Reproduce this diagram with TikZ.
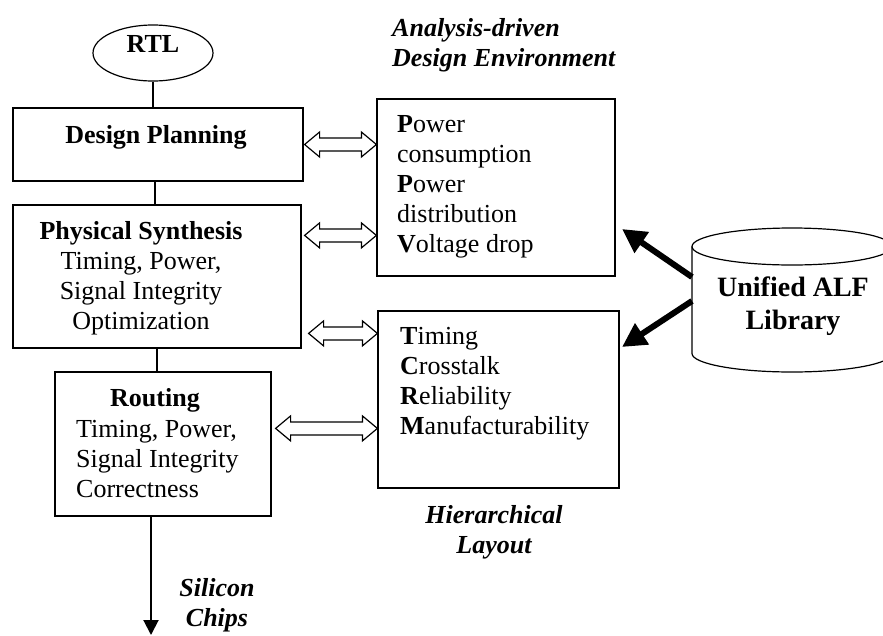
\documentclass[tikz,border=0pt]{standalone}
\usepackage{fontspec}
\setmainfont{Liberation Serif}
\usetikzlibrary{shapes.geometric}
\usetikzlibrary{calc}
\usetikzlibrary{arrows.meta}

\newcommand{\flowsize}{\fontsize{26}{30}\selectfont}

\tikzset{
  blk/.style={draw, line width=1.2pt, inner sep=0pt},
  txt/.style={inner sep=0pt, align=left, anchor=west},
  hd/.style={inner sep=0pt, font=\flowsize\bfseries},
  tag/.style={inner sep=0pt, align=center, font=\flowsize\bfseries\itshape},
  dblarr/.style={line width=1.2pt, to path={let \p1=(\tikztostart), \p2=(\tikztotarget) in
    (\x1,\y1) -- (\x1+15pt,\y1+12.5pt) -- (\x1+15pt,\y1+6.5pt) -- (\x2-15pt,\y1+6.5pt)
    -- (\x2-15pt,\y1+12.5pt) -- (\x2,\y1) -- (\x2-15pt,\y1-12.5pt) -- (\x2-15pt,\y1-6.5pt)
    -- (\x1+15pt,\y1-6.5pt) -- (\x1+15pt,\y1-12.5pt) -- cycle}},
  fat/.style={line width=6pt, -{Triangle[length=24pt,width=24pt]}}
}

\begin{document}
\begin{tikzpicture}[x=1pt, y=-1pt, font=\flowsize]
  \useasboundingbox (0,0) rectangle (883,635);

  % design flow on the left
  \node[blk, ellipse, minimum width=120, minimum height=56] (rtl) at (153,53) {};
  \node[hd] (rtltxt) at (153,44) {RTL};
  \node[blk, minimum width=290, minimum height=73] (dp) at (158,144.5) {};
  \node[hd] (dptxt) at (156,137) {Design Planning};
  \node[blk, minimum width=288, minimum height=143] (ps) at (157,276.5) {};
  \node[inner sep=0pt, align=center] (pstxt) at (141,278)
    {\textbf{Physical Synthesis}\\Timing, Power,\\Signal Integrity\\Optimization};
  \node[blk, minimum width=216, minimum height=144] (rt) at (163,444) {};
  \node[hd] (rthead) at (155,400) {Routing};
  \node[txt] (rttxt) at (76,459.5) {Timing, Power,\\Signal Integrity\\Correctness};

  \draw[line width=1.3pt] (rtl.south) -- (rtl.south |- dp.north);
  \draw[line width=1.3pt] ([xshift=-3pt]dp.south) -- ([xshift=-3pt]dp.south |- ps.north);
  \draw[line width=1.3pt] (ps.south) -- (ps.south |- rt.north);
  \coordinate (chips) at (151,635);
  \draw[line width=2pt, -{Triangle[length=15pt,width=15pt]}] (rt.south -| chips) -- (chips);

  % analysis boxes
  \node[blk, minimum width=238, minimum height=177] (pw) at (496,187.5) {};
  \node[txt] (pwtxt) at (397,186.5)
    {\textbf{P}ower\\consumption\\\textbf{P}ower\\distribution\\\textbf{V}oltage drop};
  \node[blk, minimum width=241, minimum height=177] (tm) at (498.5,399.5) {};
  \node[txt] (tmtxt) at (400,383.5)
    {\textbf{T}iming\\\textbf{C}rosstalk\\\textbf{R}eliability\\\textbf{M}anufacturability};

  % double arrows
  \coordinate (a1) at ($(dp.east)+(1,0)$);
  \coordinate (a2) at ($(ps.north east)+(3,31)$);
  \coordinate (a3) at ($(ps.north east)+(7,129)$);
  \coordinate (a4) at ($(rt.north east)+(4,57)$);
  \draw[dblarr] (a1) to (a1 -| pw.west);
  \draw[dblarr] (a2) to (a2 -| pw.west);
  \draw[dblarr] (a3) to (a3 -| tm.west);
  \draw[dblarr] (a4) to (a4 -| tm.west);

  % library cylinder
  \draw[line width=1.2pt] (692,246.5) -- (692,353.5)
    arc[start angle=180, end angle=0, x radius=100, y radius=18.5] -- (892,246.5);
  \draw[line width=1.2pt] (792,246.5) ellipse[x radius=100, y radius=18.5];
  \node[inner sep=0pt, align=center, font=\fontsize{28}{33}\selectfont\bfseries] (lib)
    at (793,306.5) {Unified ALF\\Library};
  \coordinate (libw) at (692,289);
  \coordinate (tipa) at (622,229);
  \coordinate (tipb) at (622,347);
  \draw[fat] ([yshift=12pt]libw) -- (tipa);
  \draw[fat] ([yshift=-12pt]libw) -- (tipb);

  % italic captions
  \node[tag, align=left, anchor=west] (ade) at (392,45.5) {Analysis-driven\\Design Environment};
  \node[tag] (hl) at (494,532) {Hierarchical\\Layout};
  \node[tag] (sc) at (217,605) {Silicon\\Chips};
\end{tikzpicture}
\end{document}
